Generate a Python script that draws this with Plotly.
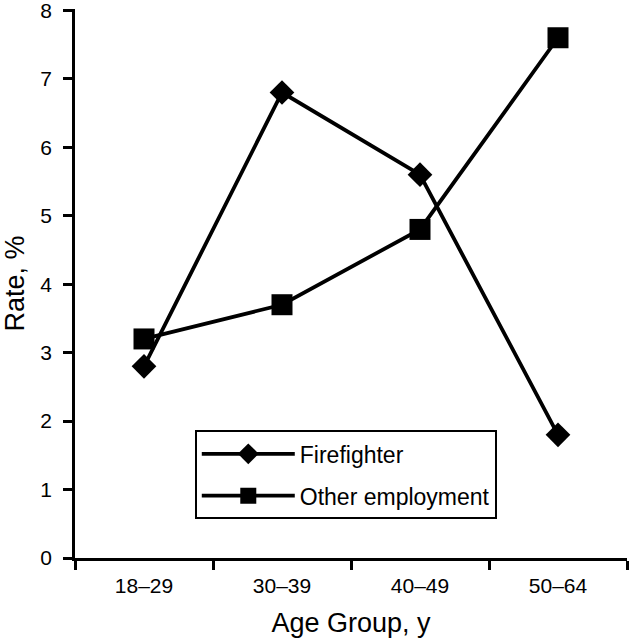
import plotly.graph_objects as go

categories = ["18–29", "30–39", "40–49", "50–64"]
firefighter = [2.8, 6.8, 5.6, 1.8]
other_employment = [3.2, 3.7, 4.8, 7.6]
y_ticks = [0, 1, 2, 3, 4, 5, 6, 7, 8]

font_family = "Liberation Sans, Arial, sans-serif"

fig = go.Figure()
fig.add_trace(go.Scatter(
    x=categories, y=firefighter, name="Firefighter", mode="lines+markers",
    legendgroup="a",
    line=dict(color="black", width=3.8),
    marker=dict(symbol="diamond", size=19, color="black"),
))
fig.add_trace(go.Scatter(
    x=categories, y=other_employment, name="Other employment", mode="lines+markers",
    legendgroup="b",
    line=dict(color="black", width=3.8),
    marker=dict(symbol="square", size=21, color="black"),
))

fig.update_layout(
    width=629, height=640,
    margin=dict(l=75, r=2, t=9, b=82),
    paper_bgcolor="white", plot_bgcolor="white",
    font=dict(family=font_family, color="black", size=21),
    showlegend=True,
    legend=dict(
        x=0.217, y=0.2325, xanchor="left", yanchor="top",
        bordercolor="black", borderwidth=2, bgcolor="white",
        font=dict(size=23, family=font_family),
        itemwidth=93, traceorder="grouped", tracegroupgap=9,
    ),
    xaxis=dict(
        type="category", tickson="boundaries", range=[-0.5, 3.5],
        showline=True, linecolor="black", linewidth=2.5,
        ticks="outside", ticklen=9, tickwidth=2.5, tickcolor="black",
        showgrid=False, zeroline=False, automargin=False,
        ticklabelstandoff=7, ticklabeloverflow="allow",
        title=dict(text="Age Group, y", font=dict(size=27), standoff=18),
        tickfont=dict(size=21),
    ),
    yaxis=dict(
        range=[0, 8.02], tickvals=y_ticks,
        showline=True, linecolor="black", linewidth=2.5,
        ticks="outside", ticklen=9, tickwidth=2.5, tickcolor="black",
        showgrid=False, zeroline=False, automargin=False,
        ticklabelstandoff=7, ticklabeloverflow="allow",
        title=dict(text="Rate, %", font=dict(size=27), standoff=9),
        tickfont=dict(size=21),
    ),
)

fig.write_html(
    "out.html",
    config={"displayModeBar": False},
    post_script="document.body.style.margin='0px';",
)
